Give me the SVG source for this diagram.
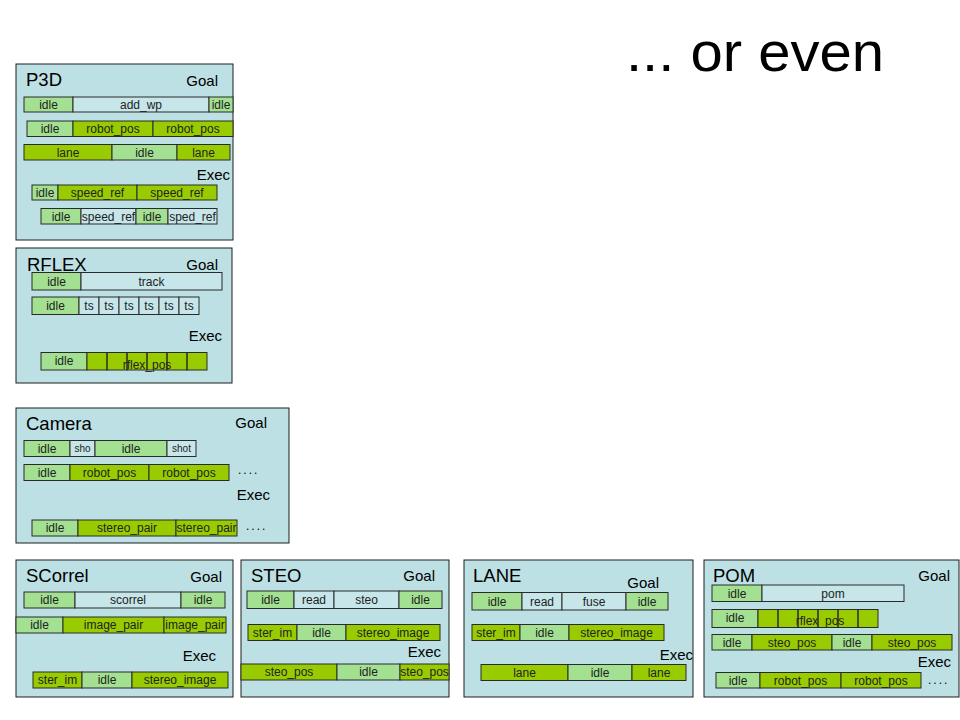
<svg xmlns="http://www.w3.org/2000/svg" width="960" height="720" viewBox="0 0 960 720">
<style>
text{font-family:"Liberation Sans",Arial,sans-serif}
.panel{fill:#bde0e4;stroke:#1e1e1e;stroke-width:1}
.i{fill:#a3e092;stroke:#2a2a2a;stroke-width:1}
.g{fill:#99cc00;stroke:#2a2a2a;stroke-width:1}
.b{fill:#c6e6ea;stroke:#2a2a2a;stroke-width:1}
.o{fill:none;stroke:#2a2a2a;stroke-width:1}
.gf{fill:#99cc00;stroke:none}
.t{font-size:12px;fill:#222;text-anchor:middle}
.s{font-size:10px;fill:#222;text-anchor:middle}
.h{font-size:18.5px;fill:#000}
.l{font-size:15px;fill:#000;text-anchor:end}
.d{font-size:12px;fill:#000;letter-spacing:2px}
</style>
<rect width="960" height="720" fill="#fff"/>
<text x="626" y="71" font-size="56" textLength="258" lengthAdjust="spacingAndGlyphs" fill="#000">... or even</text>

<g id="p3d">
<rect class="panel" x="16" y="64" width="217" height="176"/>
<text class="h" x="26" y="86">P3D</text>
<text class="l" x="218" y="86">Goal</text>
<rect class="i" x="24" y="97" width="49" height="15"/>
<rect class="b" x="73" y="97" width="136" height="15"/>
<rect class="i" x="209" y="97" width="24" height="15"/>
<text class="t" x="48.5" y="109">idle</text>
<text class="t" x="141" y="109">add_wp</text>
<text class="t" x="221" y="109">idle</text>
<rect class="i" x="27" y="121" width="46" height="15.5"/>
<rect class="g" x="73" y="121" width="80" height="15.5"/>
<rect class="g" x="153" y="121" width="80" height="15.5"/>
<text class="t" x="50" y="133">idle</text>
<text class="t" x="113" y="133">robot_pos</text>
<text class="t" x="193" y="133">robot_pos</text>
<rect class="g" x="24" y="144.5" width="88" height="15.5"/>
<rect class="i" x="112" y="144.5" width="65" height="15.5"/>
<rect class="g" x="177" y="144.5" width="53" height="15.5"/>
<text class="t" x="68" y="156.5">lane</text>
<text class="t" x="144.5" y="156.5">idle</text>
<text class="t" x="203.5" y="156.5">lane</text>
<text class="l" x="230" y="180">Exec</text>
<rect class="i" x="32" y="185" width="26" height="15"/>
<rect class="g" x="58" y="185" width="79" height="15"/>
<rect class="g" x="137" y="185" width="80" height="15"/>
<text class="t" x="45" y="197">idle</text>
<text class="t" x="97.5" y="197">speed_ref</text>
<text class="t" x="177" y="197">speed_ref</text>
<rect class="i" x="41" y="208.5" width="40" height="15.5"/>
<rect class="b" x="81" y="208.5" width="55" height="15.5"/>
<rect class="i" x="136" y="208.5" width="32" height="15.5"/>
<rect class="b" x="168" y="208.5" width="49" height="15.5"/>
<text class="t" x="61" y="220.5">idle</text>
<text class="t" x="108.5" y="220.5">speed_ref</text>
<text class="t" x="152" y="220.5">idle</text>
<text class="t" x="192.5" y="220.5">sped_ref</text>
</g>

<g id="rflex">
<rect class="panel" x="16" y="248" width="216" height="135"/>
<text class="h" x="27" y="271" font-size="19">RFLEX</text>
<text class="l" x="218" y="270">Goal</text>
<rect class="i" x="32" y="272.5" width="49" height="17.5"/>
<rect class="b" x="81" y="272.5" width="141" height="17.5"/>
<text class="t" x="56.5" y="285.5">idle</text>
<text class="t" x="151.5" y="285.5">track</text>
<rect class="i" x="32" y="297" width="47" height="17.5"/>
<rect class="b" x="79" y="297" width="20" height="17.5"/>
<rect class="b" x="99" y="297" width="20" height="17.5"/>
<rect class="b" x="119" y="297" width="20" height="17.5"/>
<rect class="b" x="139" y="297" width="20" height="17.5"/>
<rect class="b" x="159" y="297" width="20" height="17.5"/>
<rect class="b" x="179" y="297" width="20" height="17.5"/>
<text class="t" x="55.5" y="310">idle</text>
<text class="t" x="89" y="310">ts</text>
<text class="t" x="109" y="310">ts</text>
<text class="t" x="129" y="310">ts</text>
<text class="t" x="149" y="310">ts</text>
<text class="t" x="169" y="310">ts</text>
<text class="t" x="189" y="310">ts</text>
<text class="l" x="222" y="341">Exec</text>
<rect class="i" x="41" y="352.5" width="46" height="17.5"/>
<text class="t" x="64" y="365">idle</text>
<rect class="gf" x="87" y="352.5" width="120" height="17.5"/>
<text class="t" x="147" y="368.5">rflex_pos</text>
<rect class="o" x="87" y="352.5" width="20" height="17.5"/>
<rect class="o" x="107" y="352.5" width="20" height="17.5"/>
<rect class="o" x="127" y="352.5" width="20" height="17.5"/>
<rect class="o" x="147" y="352.5" width="20" height="17.5"/>
<rect class="o" x="167" y="352.5" width="20" height="17.5"/>
<rect class="o" x="187" y="352.5" width="20" height="17.5"/>
</g>

<g id="camera">
<rect class="panel" x="16" y="408" width="273" height="135"/>
<text class="h" x="26" y="430">Camera</text>
<text class="l" x="267" y="428">Goal</text>
<rect class="i" x="24" y="440.5" width="46" height="16"/>
<rect class="b" x="70" y="440.5" width="25" height="16"/>
<rect class="i" x="95" y="440.5" width="72" height="16"/>
<rect class="b" x="167" y="440.5" width="29" height="16"/>
<text class="t" x="47" y="452.5">idle</text>
<text class="s" x="82.5" y="452">sho</text>
<text class="t" x="131" y="452.5">idle</text>
<text class="s" x="181.5" y="452">shot</text>
<rect class="i" x="24" y="464.5" width="46" height="16"/>
<rect class="g" x="70" y="464.5" width="79" height="16"/>
<rect class="g" x="149" y="464.5" width="80" height="16"/>
<text class="t" x="47" y="476.5">idle</text>
<text class="t" x="109.5" y="476.5">robot_pos</text>
<text class="t" x="189" y="476.5">robot_pos</text>
<text class="d" x="238" y="474">....</text>
<text class="l" x="270" y="500">Exec</text>
<rect class="i" x="32" y="520" width="46" height="16"/>
<rect class="g" x="78" y="520" width="98" height="16"/>
<rect class="g" x="176" y="520" width="61" height="16"/>
<text class="t" x="55" y="532">idle</text>
<text class="t" x="127" y="532">stereo_pair</text>
<text class="t" x="206.5" y="532">stereo_pair</text>
<text class="d" x="246" y="530">....</text>
</g>

<g id="scorrel">
<rect class="panel" x="16" y="560" width="217" height="137"/>
<text class="h" x="26" y="582">SCorrel</text>
<text class="l" x="222" y="582">Goal</text>
<rect class="i" x="24" y="592" width="51" height="16"/>
<rect class="b" x="75" y="592" width="106" height="16"/>
<rect class="i" x="181" y="592" width="44" height="16"/>
<text class="t" x="49.5" y="604">idle</text>
<text class="t" x="128" y="604">scorrel</text>
<text class="t" x="203" y="604">idle</text>
<rect class="i" x="16" y="617" width="47" height="16"/>
<rect class="g" x="63" y="617" width="101" height="16"/>
<rect class="g" x="164" y="617" width="62" height="16"/>
<text class="t" x="39.5" y="629">idle</text>
<text class="t" x="113.5" y="629">image_pair</text>
<text class="t" x="195" y="629">image_pair</text>
<text class="l" x="216" y="661">Exec</text>
<rect class="g" x="33" y="672" width="49" height="16"/>
<rect class="i" x="82" y="672" width="50" height="16"/>
<rect class="g" x="132" y="672" width="96" height="16"/>
<text class="t" x="57.5" y="684">ster_im</text>
<text class="t" x="107" y="684">idle</text>
<text class="t" x="180" y="684">stereo_image</text>
</g>

<g id="steo">
<rect class="panel" x="241" y="560" width="208" height="137"/>
<text class="h" x="251" y="582">STEO</text>
<text class="l" x="435" y="581">Goal</text>
<rect class="i" x="247" y="591" width="47" height="17.5"/>
<rect class="b" x="294" y="591" width="40" height="17.5"/>
<rect class="b" x="334" y="591" width="65" height="17.5"/>
<rect class="i" x="399" y="591" width="43" height="17.5"/>
<text class="t" x="270.5" y="604">idle</text>
<text class="t" x="314" y="604">read</text>
<text class="t" x="366.5" y="604">steo</text>
<text class="t" x="420.5" y="604">idle</text>
<rect class="g" x="248" y="624.5" width="49" height="16"/>
<rect class="i" x="297" y="624.5" width="49" height="16"/>
<rect class="g" x="346" y="624.5" width="94" height="16"/>
<text class="t" x="272.5" y="636.5">ster_im</text>
<text class="t" x="321.5" y="636.5">idle</text>
<text class="t" x="393" y="636.5">stereo_image</text>
<text class="l" x="441" y="657">Exec</text>
<rect class="g" x="241" y="664" width="96" height="16"/>
<rect class="i" x="337" y="664" width="63" height="16"/>
<rect class="g" x="400" y="664" width="49" height="16"/>
<text class="t" x="289" y="676">steo_pos</text>
<text class="t" x="368.5" y="676">idle</text>
<text class="t" x="424.5" y="676">steo_pos</text>
</g>

<g id="lane">
<rect class="panel" x="464" y="560" width="229" height="137"/>
<text class="h" x="473" y="582">LANE</text>
<text class="l" x="659" y="588">Goal</text>
<rect class="i" x="472" y="592.5" width="50" height="17.5"/>
<rect class="b" x="522" y="592.5" width="40" height="17.5"/>
<rect class="b" x="562" y="592.5" width="64" height="17.5"/>
<rect class="i" x="626" y="592.5" width="42" height="17.5"/>
<text class="t" x="497" y="605.5">idle</text>
<text class="t" x="542" y="605.5">read</text>
<text class="t" x="594" y="605.5">fuse</text>
<text class="t" x="647" y="605.5">idle</text>
<rect class="g" x="472" y="624.5" width="48" height="16"/>
<rect class="i" x="520" y="624.5" width="49" height="16"/>
<rect class="g" x="569" y="624.5" width="95" height="16"/>
<text class="t" x="496" y="636.5">ster_im</text>
<text class="t" x="544.5" y="636.5">idle</text>
<text class="t" x="616.5" y="636.5">stereo_image</text>
<text class="l" x="693" y="660">Exec</text>
<rect class="g" x="481" y="664.5" width="87" height="16"/>
<rect class="i" x="568" y="664.5" width="64" height="16"/>
<rect class="g" x="632" y="664.5" width="54" height="16"/>
<text class="t" x="524.5" y="676.5">lane</text>
<text class="t" x="600" y="676.5">idle</text>
<text class="t" x="659" y="676.5">lane</text>
</g>

<g id="pom">
<rect class="panel" x="704" y="560" width="255" height="137"/>
<text class="h" x="713" y="582" font-size="19">POM</text>
<text class="l" x="950" y="581">Goal</text>
<rect class="i" x="712" y="585" width="50" height="16.5"/>
<rect class="b" x="762" y="585" width="142" height="16.5"/>
<text class="t" x="737" y="597.5">idle</text>
<text class="t" x="833" y="597.5">pom</text>
<rect class="i" x="712" y="609.5" width="46" height="18"/>
<text class="t" x="735" y="622">idle</text>
<rect class="gf" x="758" y="609.5" width="120" height="18"/>
<text class="t" x="820" y="625">rflex_pos</text>
<rect class="o" x="758" y="609.5" width="20" height="18"/>
<rect class="o" x="778" y="609.5" width="20" height="18"/>
<rect class="o" x="798" y="609.5" width="20" height="18"/>
<rect class="o" x="818" y="609.5" width="20" height="18"/>
<rect class="o" x="838" y="609.5" width="20" height="18"/>
<rect class="o" x="858" y="609.5" width="20" height="18"/>
<rect class="i" x="712" y="634.5" width="40" height="15.5"/>
<rect class="g" x="752" y="634.5" width="80" height="15.5"/>
<rect class="i" x="832" y="634.5" width="40" height="15.5"/>
<rect class="g" x="872" y="634.5" width="80" height="15.5"/>
<text class="t" x="732" y="646.5">idle</text>
<text class="t" x="792" y="646.5">steo_pos</text>
<text class="t" x="852" y="646.5">idle</text>
<text class="t" x="912" y="646.5">steo_pos</text>
<text class="l" x="951" y="667">Exec</text>
<rect class="i" x="716" y="672.5" width="44" height="15.5"/>
<rect class="g" x="760" y="672.5" width="81" height="15.5"/>
<rect class="g" x="841" y="672.5" width="80" height="15.5"/>
<text class="t" x="738" y="684.5">idle</text>
<text class="t" x="800.5" y="684.5">robot_pos</text>
<text class="t" x="881" y="684.5">robot_pos</text>
<text class="d" x="928" y="684">....</text>
</g>
</svg>
